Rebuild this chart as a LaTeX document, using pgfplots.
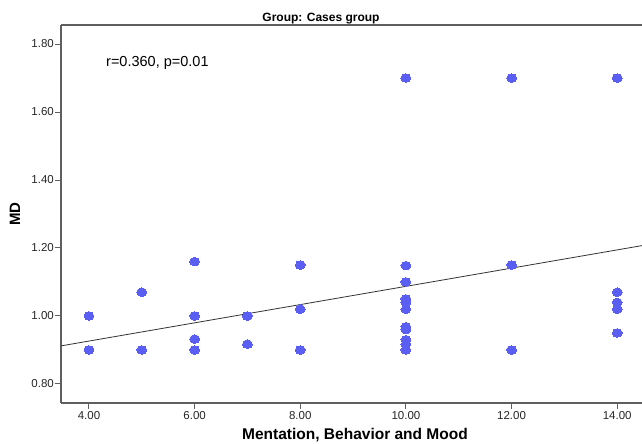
\documentclass[border=0pt]{standalone}
\usepackage{fontspec}
\setmainfont{Liberation Sans}
\usepackage{pgfplots}
\pgfplotsset{compat=1.18}
\definecolor{dotblue}{RGB}{90,94,242}
\definecolor{axgray}{RGB}{95,95,95}
\begin{document}
\begin{tikzpicture}
\useasboundingbox (-61pt,-41pt) rectangle (581pt,403pt);
\begin{axis}[
  at={(0pt,0pt)}, anchor=south west,
  width=581pt, height=378pt, scale only axis,
  xmin=3.47, xmax=14.47, ymin=0.744, ymax=1.856,
  axis lines*=left,
  axis line style={axgray, line width=1.3pt},
  tick style={axgray, line width=1pt},
  tick align=outside, major tick length=6pt,
  xtick={4,6,8,10,12,14}, ytick={0.8,1.0,1.2,1.4,1.6,1.8},
  /pgf/number format/.cd, fixed, fixed zerofill, precision=2, assume math mode=true,
  /pgfplots/.cd,
  ticklabel style={font=\fontsize{11.5}{13}\selectfont, text=black!85},
  yticklabel style={inner sep=1pt},
  xticklabel style={inner sep=2pt},
  clip=false,
]
\addplot[only marks, color=dotblue, mark=*, mark size=4.3pt, mark options={draw=dotblue, fill=dotblue, line width=0pt, xscale=1.15}] coordinates {
(4,1.00) (4,0.90)
(5,1.07) (5,0.90)
(6,1.16) (6,1.00) (6,0.932) (6,0.90)
(7,1.00) (7,0.917)
(8,1.15) (8,1.02) (8,0.90)
(10,1.70) (10,1.148) (10,1.10) (10,1.05) (10,1.04) (10,1.02) (10,0.968) (10,0.96) (10,0.93) (10,0.917) (10,0.90)
(12,1.70) (12,1.15) (12,0.90)
(14,1.70) (14,1.07) (14,1.04) (14,1.02) (14,0.95)
};
\addplot[black!80, line width=0.8pt] coordinates {(3.47,0.912) (14.47,1.207)};
\draw[axgray, line width=1.3pt] (rel axis cs:0,1) -- (rel axis cs:1,1);
\end{axis}
\node[anchor=base, font=\bfseries\fontsize{12}{14}\selectfont] at (260pt,381.3pt) {Group: Cases group};
\node[anchor=base west, inner sep=0pt, font=\fontsize{14.5}{17}\selectfont] at (45pt,336.3pt) {r=0.360, p=0.01};
\node[anchor=base, inner sep=0pt, font=\bfseries\fontsize{15.5}{18}\selectfont] at (294pt,-37pt) {Mentation, Behavior and Mood};
\node[rotate=90, inner sep=0pt, font=\bfseries\fontsize{15}{18}\selectfont] at (-46pt,189pt) {MD};
\end{tikzpicture}
\end{document}
